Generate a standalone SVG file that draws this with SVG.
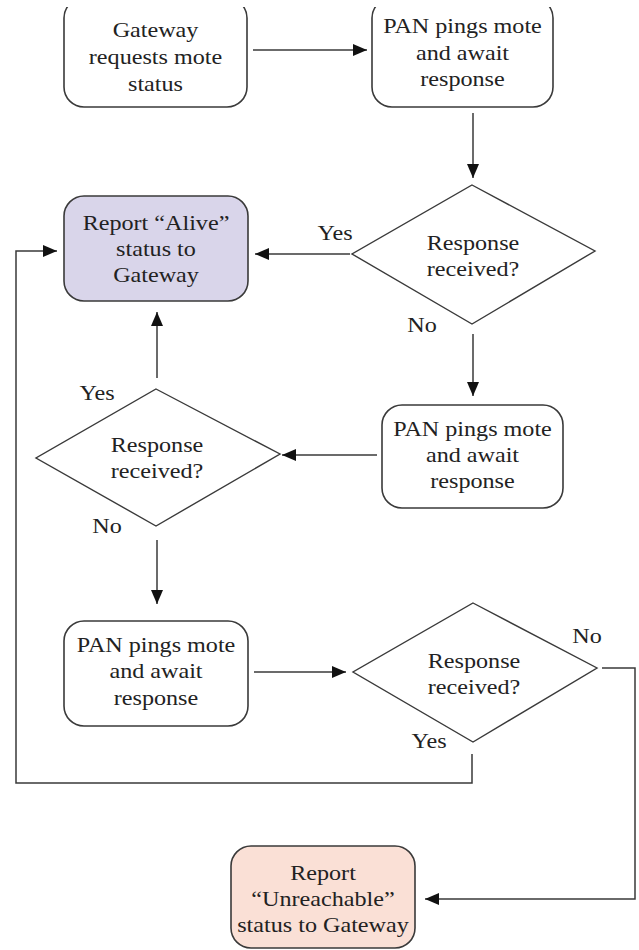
<svg xmlns="http://www.w3.org/2000/svg" width="639" height="950" viewBox="0 0 639 950">
<defs>
<style>
.box{fill:#ffffff;stroke:#3a3a3a;stroke-width:1.6}
.alive{fill:#d9d5ea}
.unreach{fill:#fae0d6}
.dia{fill:#ffffff;stroke:#3a3a3a;stroke-width:1.4}
.c{fill:none;stroke:#3a3a3a;stroke-width:1.5}
.ser{font-family:"Liberation Serif","Times New Roman","Noto Serif","DejaVu Serif",serif}
</style>
<clipPath id="topcut"><rect x="0" y="7" width="639" height="943"/></clipPath>
<marker id="ah" viewBox="0 0 14 12" refX="14" refY="6" markerWidth="14" markerHeight="12" markerUnits="userSpaceOnUse" orient="auto">
<path d="M0,0 L14,6 L0,12 Z" fill="#111"/>
</marker>
</defs>
<rect width="639" height="950" fill="#ffffff"/>
<g id="connectors">
<line class="c" x1="253" y1="50" x2="367" y2="50" marker-end="url(#ah)"/>
<line class="c" x1="473" y1="113" x2="473" y2="178" marker-end="url(#ah)"/>
<line class="c" x1="350" y1="254" x2="255" y2="254" marker-end="url(#ah)"/>
<line class="c" x1="473" y1="334" x2="473" y2="396" marker-end="url(#ah)"/>
<line class="c" x1="377" y1="455" x2="282" y2="455" marker-end="url(#ah)"/>
<line class="c" x1="157" y1="378" x2="157" y2="312" marker-end="url(#ah)"/>
<line class="c" x1="157" y1="540" x2="157" y2="604" marker-end="url(#ah)"/>
<line class="c" x1="254" y1="672" x2="346" y2="672" marker-end="url(#ah)"/>
<polyline class="c" points="602,668 635,668 635,899 425,899" marker-end="url(#ah)"/>
<polyline class="c" points="472,754 472,783 16,783 16,251 57,251" marker-end="url(#ah)"/>
</g>
<g class="ser" font-size="21" fill="#222" text-anchor="middle">
<g id="n1">
<rect class="box" x="64" y="-2" width="183" height="109" rx="20" clip-path="url(#topcut)"/>
<text transform="translate(155.5 0) scale(1.15 1)"><tspan x="0" y="37">Gateway</tspan><tspan x="0" y="64">requests mote</tspan><tspan x="0" y="91">status</tspan></text>
</g>
<g id="n2">
<rect class="box" x="372" y="-2" width="181" height="109" rx="20" clip-path="url(#topcut)"/>
<text transform="translate(462.5 0) scale(1.15 1)"><tspan x="0" y="33">PAN pings mote</tspan><tspan x="0" y="60">and await</tspan><tspan x="0" y="86">response</tspan></text>
</g>
<g id="d1">
<polygon class="dia" points="472,185 595,251 472,324 352,254"/>
<text transform="translate(473 0) scale(1.15 1)"><tspan x="0" y="250">Response</tspan><tspan x="0" y="276">received?</tspan></text>
<text transform="translate(335 0) scale(1.15 1)" x="0" y="240">Yes</text>
<text transform="translate(422 0) scale(1.15 1)" x="0" y="332">No</text>
</g>
<g id="n3">
<rect class="box alive" x="64" y="196" width="184" height="105" rx="20"/>
<text transform="translate(156 0) scale(1.15 1)"><tspan x="0" y="230">Report “Alive”</tspan><tspan x="0" y="256">status to</tspan><tspan x="0" y="282">Gateway</tspan></text>
</g>
<g id="n4">
<rect class="box" x="382" y="405" width="181" height="103" rx="20"/>
<text transform="translate(472.5 0) scale(1.15 1)"><tspan x="0" y="436">PAN pings mote</tspan><tspan x="0" y="462">and await</tspan><tspan x="0" y="488">response</tspan></text>
</g>
<g id="d2">
<polygon class="dia" points="156,389 280,454 156,526 36,458"/>
<text transform="translate(157 0) scale(1.15 1)"><tspan x="0" y="452">Response</tspan><tspan x="0" y="478">received?</tspan></text>
<text transform="translate(97 0) scale(1.15 1)" x="0" y="400">Yes</text>
<text transform="translate(107 0) scale(1.15 1)" x="0" y="533">No</text>
</g>
<g id="n5">
<rect class="box" x="64" y="621" width="184" height="105" rx="20"/>
<text transform="translate(156 0) scale(1.15 1)"><tspan x="0" y="652">PAN pings mote</tspan><tspan x="0" y="678">and await</tspan><tspan x="0" y="705">response</tspan></text>
</g>
<g id="d3">
<polygon class="dia" points="473,603 597,668 473,742 353,672"/>
<text transform="translate(474 0) scale(1.15 1)"><tspan x="0" y="668">Response</tspan><tspan x="0" y="694">received?</tspan></text>
<text transform="translate(587 0) scale(1.15 1)" x="0" y="643">No</text>
<text transform="translate(429 0) scale(1.15 1)" x="0" y="748">Yes</text>
</g>
<g id="n6">
<rect class="box unreach" x="231" y="846" width="184" height="102" rx="20"/>
<text transform="translate(323 0) scale(1.15 1)"><tspan x="0" y="880">Report</tspan><tspan x="0" y="906">“Unreachable”</tspan><tspan x="0" y="932">status to Gateway</tspan></text>
</g>
</g>
</svg>
